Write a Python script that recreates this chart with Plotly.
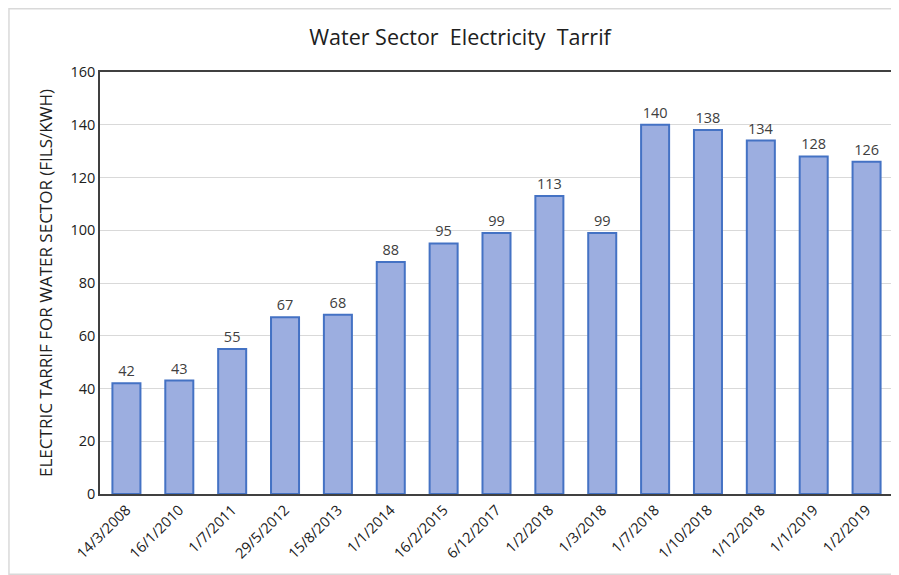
import plotly.graph_objects as go

dates = ["14/3/2008", "16/1/2010", "1/7/2011", "29/5/2012", "15/8/2013", "1/1/2014",
         "16/2/2015", "6/12/2017", "1/2/2018", "1/3/2018", "1/7/2018", "1/10/2018",
         "1/12/2018", "1/1/2019", "1/2/2019"]
tariff = [42, 43, 55, 67, 68, 88, 95, 99, 113, 99, 140, 138, 134, 128, 126]

FONT = "Open Sans"

fig = go.Figure()
fig.add_trace(go.Bar(
    x=dates, y=tariff,
    marker=dict(color="#9caee0", line=dict(color="#4472c4", width=2)),
    text=[str(v) for v in tariff], textposition="outside",
    textfont=dict(size=14.5, color="#404040", family=FONT),
    cliponaxis=False,
))

fig.update_layout(
    width=899, height=575,
    margin=dict(l=92, r=14, t=64, b=89, autoexpand=False),
    paper_bgcolor="white", plot_bgcolor="white",
    bargap=0.47,
    showlegend=False,
    title=dict(text="Water Sector  Electricity  Tarrif", x=452/899, xanchor="center",
               y=1 - 29/575, yanchor="middle", xref="container", yref="container",
               font=dict(size=21.5, color="#202020", family=FONT)),
    font=dict(family=FONT, color="#404040"),
    shapes=[dict(type="rect", xref="paper", yref="paper", x0=-0.1148, x1=1.005,
                 y0=-0.19, y1=1.15, line=dict(color="#d9d9d9", width=1.5), layer="below")],
)
fig.update_xaxes(tickangle=-45, tickfont=dict(size=14.5, color="#202020", family=FONT),
                 showline=True, linecolor="#404040", linewidth=1.5, mirror=True,
                 ticks="", showgrid=False, automargin=False)
fig.update_yaxes(range=[0, 160], dtick=20, tickfont=dict(size=14.5, color="#202020", family=FONT),
                 showline=True, linecolor="#404040", linewidth=1.5, mirror=True,
                 gridcolor="#d9d9d9", gridwidth=1, ticks="", zeroline=False, automargin=False,
                 title=dict(text="ELECTRIC TARRIF FOR WATER SECTOR (FILS/KWH)",
                            font=dict(size=17, color="#202020", family=FONT), standoff=14))

fig.write_html("out.html")
